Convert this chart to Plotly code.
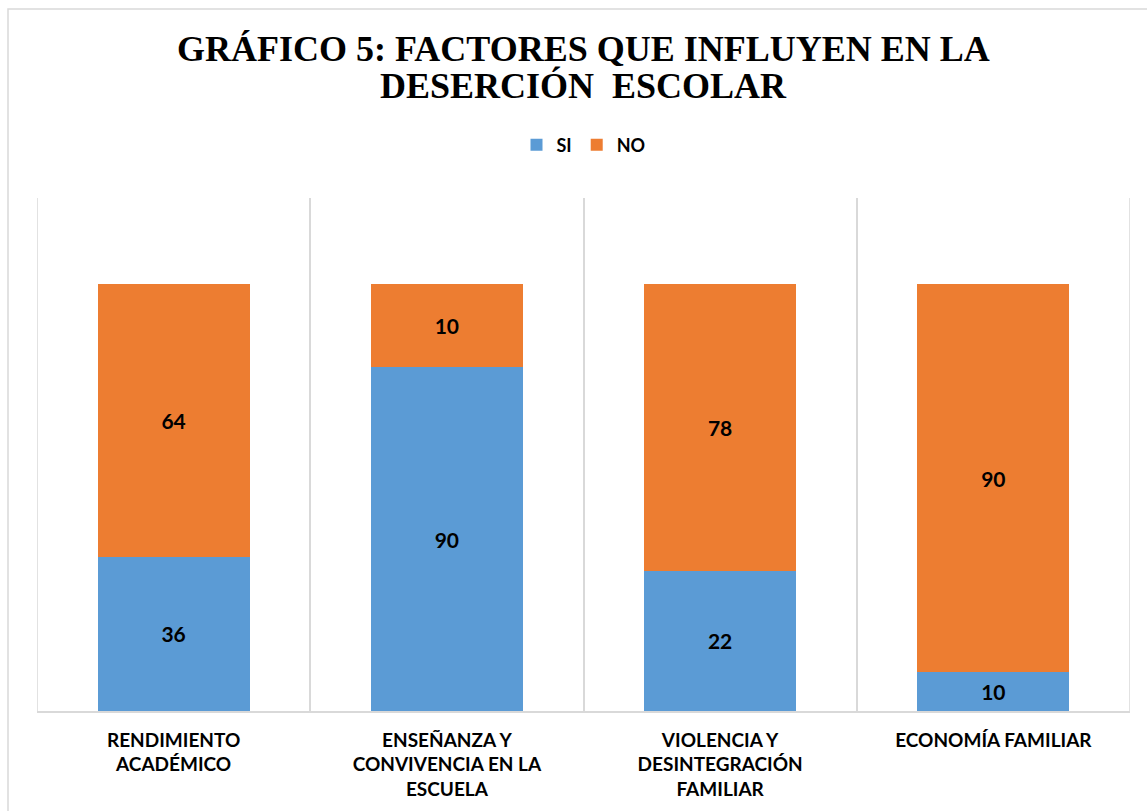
import plotly.graph_objects as go

categories = ["RENDIMIENTO ACADÉMICO", "ENSEÑANZA Y CONVIVENCIA EN LA ESCUELA",
              "VIOLENCIA Y DESINTEGRACIÓN FAMILIAR", "ECONOMÍA FAMILIAR"]
tick_labels = ["RENDIMIENTO<br>ACADÉMICO", "ENSEÑANZA Y<br>CONVIVENCIA EN LA<br>ESCUELA",
               "VIOLENCIA Y<br>DESINTEGRACIÓN<br>FAMILIAR", "ECONOMÍA FAMILIAR"]
# numbers printed on the bars
si_labels = [36, 90, 22, 10]
no_labels = [64, 10, 78, 90]
# segment heights as drawn in the picture (share of a 100% stacked bar)
si_share = [36.2, 80.5, 32.9, 9.1]
no_share = [63.8, 19.5, 67.1, 90.9]
title_lines = ["GRÁFICO 5: FACTORES QUE INFLUYEN EN LA", "DESERCIÓN  ESCOLAR"]

W, H = 1147, 811
L, R, T, B = 37, 17, 198, 100
pw = W - L - R
ph = H - T - B

xpos = list(range(len(categories)))

fig = go.Figure()
for name, vals, labels, color in [("SI", si_share, si_labels, "#5B9BD5"),
                                  ("NO", no_share, no_labels, "#ED7D31")]:
    fig.add_trace(go.Bar(
        x=xpos, y=vals, name=name, marker=dict(color=color, line=dict(width=0)),
        text=labels, texttemplate="%{text}", textposition="inside",
        insidetextanchor="middle", textangle=0,
        textfont=dict(family="Lato", size=21, color="black", weight="bold"),
        customdata=categories, hovertemplate="%{customdata}: %{text}<extra>" + name + "</extra>",
    ))

def ypaper(pix):
    return 1 + (T - pix) / ph

annotations = [
    dict(text=title_lines[0], x=0.5, xref="paper", xanchor="center",
         y=ypaper(49), yref="paper", yanchor="middle", showarrow=False,
         font=dict(family="Liberation Serif", size=36, color="black", weight="bold")),
    dict(text=title_lines[1], x=0.5, xref="paper", xanchor="center",
         y=ypaper(86), yref="paper", yanchor="middle", showarrow=False,
         font=dict(family="Liberation Serif", size=36, color="black", weight="bold")),
]

fig.update_layout(
    width=W, height=H,
    barmode="stack", bargap=0.444,
    margin=dict(l=L, r=R, t=T, b=B, pad=0),
    paper_bgcolor="white", plot_bgcolor="white",
    annotations=annotations,
    legend=dict(
        orientation="h", x=0.5, xanchor="center", xref="paper",
        y=ypaper(145), yanchor="middle",
        font=dict(family="Lato", size=18, color="black", weight="bold"),
        traceorder="normal", itemwidth=30,
    ),
    xaxis=dict(
        range=[-0.5, len(categories) - 0.5],
        tickvals=xpos, ticktext=tick_labels,
        tickfont=dict(family="Lato", size=19, color="black", weight="bold"),
        ticklabelstandoff=11,
        showgrid=False, zeroline=False, ticks="",
        showline=True, linecolor="#D9D9D9", linewidth=1.5,
        minor=dict(tick0=0.5, dtick=1, showgrid=True, gridcolor="#D9D9D9", gridwidth=1.5),
        fixedrange=True,
    ),
    yaxis=dict(range=[0, 120.2], visible=False, showgrid=False, zeroline=False, fixedrange=True),
    showlegend=True,
    shapes=[
        dict(type="rect", xref="paper", yref="paper",
             x0=(8 - L) / pw, x1=(W + 20 - L) / pw,
             y0=-(B + 20) / ph, y1=ypaper(9),
             line=dict(color="#D9D9D9", width=1.5), layer="below"),
        dict(type="line", xref="x", yref="paper", x0=-0.5, x1=-0.5, y0=0, y1=1,
             line=dict(color="#D9D9D9", width=1.5)),
        dict(type="line", xref="x", yref="paper", x0=len(categories) - 0.5, x1=len(categories) - 0.5,
             y0=0, y1=1, line=dict(color="#D9D9D9", width=1.5)),
    ],
)

fig.write_html("out.html")
